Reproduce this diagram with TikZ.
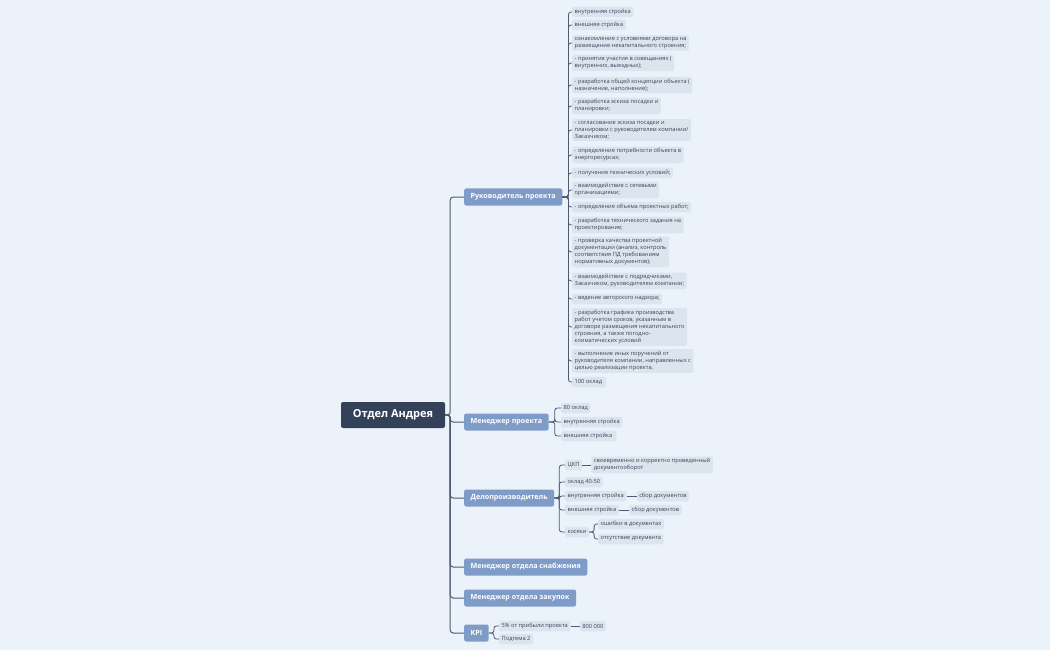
\documentclass[tikz,border=0pt]{standalone}
\usepackage{fontspec}
\setmainfont{Open Sans}
\usepackage{xcolor}
\usepackage{tikz}
\usetikzlibrary{positioning}

\definecolor{bgcol}{HTML}{EBF2FA}
\definecolor{rootcol}{HTML}{344259}
\definecolor{branchcol}{HTML}{7F9CC8}
\definecolor{leafcol}{HTML}{DCE4EE}
\definecolor{linecol}{HTML}{4E5C70}
\definecolor{textcol}{HTML}{3A4656}

\tikzset{
	wurzel/.style={fill=rootcol, text=white, font=\fontsize{11}{13}\selectfont\bfseries, rounded corners=2pt, minimum width=104pt, minimum height=26pt, inner sep=0pt},
	zweig/.style={anchor=west, fill=branchcol, text=white, font=\fontsize{7.1}{8}\selectfont\bfseries, rounded corners=2pt, minimum height=17pt, inner xsep=6.5pt, inner ysep=0pt},
	blatt/.style={anchor=west, fill=leafcol, text=textcol, font=\fontsize{5.7}{7}\selectfont, rounded corners=1.5pt, align=left, inner xsep=2.5pt, inner ysep=2pt, minimum height=10.5pt},
	ast/.style={draw=linecol, line width=1pt, rounded corners=3pt},
	zweiglinie/.style={draw=linecol, line width=0.8pt, rounded corners=2.5pt}
}

\begin{document}
\begin{tikzpicture}[x=1pt, y=-1pt]
	\useasboundingbox[fill=bgcol] (0,0) rectangle (1050,650);

	% Wurzel
	\node[wurzel] (root) at (393,415) {Отдел Андрея};

	% Zweige
	\node[zweig] (rp) at (464,197) {Руководитель проекта};
	\node[zweig] (mp) at (464,422) {Менеджер проекта};
	\node[zweig] (dp) at (464,498) {Делопроизводитель};
	\node[zweig] (ms) at (464,567) {Менеджер отдела снабжения};
	\node[zweig] (mz) at (464,598) {Менеджер отдела закупок};
	\node[zweig] (kpi) at (464,633) {KPI};

	\foreach \n in {rp,mp,dp,ms,mz,kpi}
		\draw[ast] (root.east) -- ++(5,0) |- (\n.west);

	% Руководитель проекта
	\foreach \y/\txt [count=\i] in {
		12/{внутренняя стройка},
		25/{внешняя стройка},
		43/{ознакомление с условиями договора на\\размещение некапитального строения;},
		63/{- принятие участия в совещаниях (\\внутренних, выездных);},
		85/{- разработка общей концепции объекта (\\назначение, наполнение);},
		106/{- разработка эскиза посадки и\\планировки;},
		130/{- согласование эскиза посадки и\\планировки с руководителем компании/\\Заказчиком;},
		155/{- определение потребности объекта в\\энергоресурсах;},
		173/{- получение технических условий;},
		190/{- взаимодействие с сетевыми\\организациями;},
		207/{- определение объема проектных работ;},
		225/{- разработка технического задания на\\проектирование;},
		252/{- проверка качества проектной\\документации (анализ, контроль\\соответствия ПД требованиям\\нормативных документов);},
		281/{- взаимодействие с подрядчиками,\\Заказчиком, руководителем компании;},
		299/{- ведение авторского надзора;},
		327/{- разработка графика производства\\работ учетом сроков, указанным в\\договоре размещения некапитального\\строения, а также погодно-\\климатических условий},
		361/{- выполнение иных поручений от\\руководителя компании, направленных с\\целью реализации проекта.},
		382/{100 оклад}
	}{
		\node[blatt] (rp\i) at (572,\y) {\txt};
		\draw[zweiglinie] (rp.east) -- ++(6,0) |- (rp\i.west);
	}

	% Менеджер проекта
	\foreach \y/\txt [count=\i] in {
		408/{80 оклад},
		422/{внутренняя стройка},
		436/{внешняя стройка}
	}{
		\node[blatt] (mp\i) at (561,\y) {\txt};
		\draw[zweiglinie] (mp.east) -- ++(6,0) |- (mp\i.west);
	}

	% Делопроизводитель
	\node[blatt] (ckp) at (565,465) {ЦКП};
	\node[blatt] (okl) at (565,482) {оклад 40-50};
	\node[blatt] (vnu) at (565,496) {внутренняя стройка};
	\node[blatt] (vne) at (565,510) {внешняя стройка};
	\node[blatt] (kos) at (565,532) {косяки};
	\foreach \n in {ckp,okl,vnu,vne,kos}
		\draw[zweiglinie] (dp.east) -- ++(5,0) |- (\n.west);

	\node[blatt, right=9pt of ckp] (ckpa) {своевременно и корректно проведенный\\документооборот};
	\node[blatt, right=10pt of vnu] (vnua) {сбор документов};
	\node[blatt, right=10pt of vne] (vnea) {сбор документов};
	\draw[zweiglinie] (ckp.east) -- (ckpa.west);
	\draw[zweiglinie] (vnu.east) -- (vnua.west);
	\draw[zweiglinie] (vne.east) -- (vnea.west);

	\node[blatt] (kos1) at (598,524) {ошибки в документах};
	\node[blatt] (kos2) at (598,539) {отсутствие документа};
	\foreach \n in {kos1,kos2}
		\draw[zweiglinie] (kos.east) -- ++(5,0) |- (\n.west);

	% KPI
	\node[blatt] (kpi1) at (499,626) {5\% от прибыли проекта};
	\node[blatt] (kpi2) at (499,639) {Подтема 2};
	\foreach \n in {kpi1,kpi2}
		\draw[zweiglinie] (kpi.east) -- ++(5,0) |- (\n.west);
	\node[blatt, right=9pt of kpi1] (kpi1a) {800 000};
	\draw[zweiglinie] (kpi1.east) -- (kpi1a.west);
\end{tikzpicture}
\end{document}
